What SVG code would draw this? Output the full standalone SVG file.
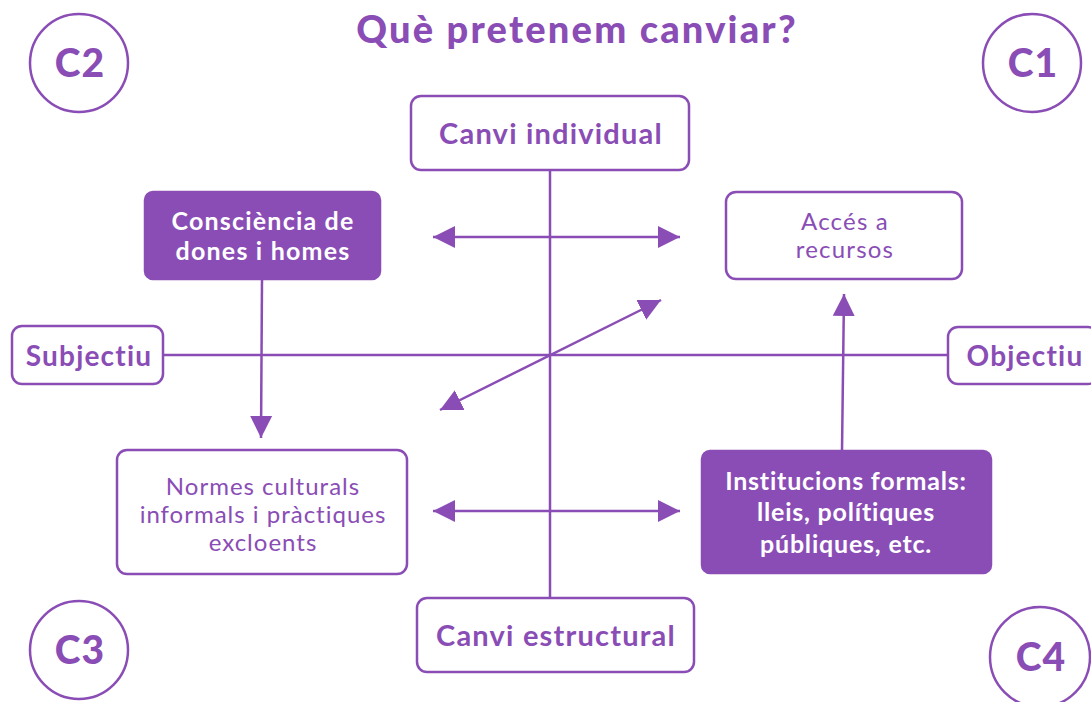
<svg xmlns="http://www.w3.org/2000/svg" width="1091" height="702" viewBox="0 0 1091 702">
<style>
.box{fill:#fff;stroke:#8a4db5;stroke-width:2.5}
.fill{fill:#8a4db5;stroke:#8a4db5;stroke-width:2.5}
.circ{fill:#fff;stroke:#8a4db5;stroke-width:2.5}
.ln{stroke:#8a4db5;stroke-width:2.5;fill:none}
.t{font-family:Lato,"Open Sans",sans-serif;text-anchor:middle;fill:#8a4db5;letter-spacing:1.2px}
.b{font-weight:bold}
.k{font-weight:900}
.w{fill:#fff}
</style>
<defs>
<marker id="ah" markerUnits="userSpaceOnUse" markerWidth="24" markerHeight="24" viewBox="0 0 24 24" refX="22" refY="12" orient="auto-start-reverse">
<path d="M0,1 L22,12 L0,23 Z" fill="#8a4db5"/>
</marker>
</defs>
<rect width="1091" height="702" fill="#fff"/>
<text class="t k" x="577" y="43" font-size="38" style="letter-spacing:2.2px">Què pretenem canviar?</text>

<g id="connectors">
<line class="ln" x1="550" y1="170" x2="550" y2="598"/>
<line class="ln" x1="163" y1="355" x2="948" y2="355"/>
<line class="ln" x1="433" y1="237" x2="680" y2="237" marker-start="url(#ah)" marker-end="url(#ah)"/>
<line class="ln" x1="433" y1="511" x2="680" y2="511" marker-start="url(#ah)" marker-end="url(#ah)"/>
<line class="ln" x1="440" y1="410" x2="661" y2="300" marker-start="url(#ah)" marker-end="url(#ah)"/>
<line class="ln" x1="262" y1="279" x2="261" y2="438" marker-end="url(#ah)"/>
<line class="ln" x1="842" y1="451" x2="844" y2="294" marker-end="url(#ah)"/>
</g>

<g id="c2"><circle class="circ" cx="79" cy="63" r="49"/><text class="t k" x="80" y="77" font-size="39">C2</text></g>
<g id="c1"><circle class="circ" cx="1032" cy="63" r="49"/><text class="t k" x="1033" y="77" font-size="39">C1</text></g>
<g id="c3"><circle class="circ" cx="79" cy="650" r="49"/><text class="t k" x="80" y="664" font-size="39">C3</text></g>
<g id="c4"><circle class="circ" cx="1040" cy="657" r="50"/><text class="t k" x="1041" y="671" font-size="39">C4</text></g>

<g id="canvi-individual"><rect class="box" x="411" y="96" width="278" height="74" rx="10"/><text class="t b" x="551" y="144" font-size="29">Canvi individual</text></g>
<g id="canvi-estructural"><rect class="box" x="417" y="598" width="277" height="74" rx="10"/><text class="t b" x="556" y="646" font-size="29">Canvi estructural</text></g>
<g id="subjectiu"><rect class="box" x="12" y="326" width="151" height="58" rx="10"/><text class="t b" x="89" y="366" font-size="28">Subjectiu</text></g>
<g id="objectiu"><rect class="box" x="948" y="327" width="150" height="57" rx="10"/><text class="t b" x="1025" y="366" font-size="28">Objectiu</text></g>

<g id="consciencia"><rect class="fill" x="145" y="192" width="235" height="87" rx="8"/>
<text class="t b w" x="263" y="230" font-size="25">Consciència de</text>
<text class="t b w" x="263" y="260" font-size="25">dones i homes</text></g>

<g id="acces"><rect class="box" x="726" y="192" width="236" height="87" rx="10"/>
<text class="t" x="845" y="230" font-size="24">Accés a</text>
<text class="t" x="845" y="258" font-size="24">recursos</text></g>

<g id="normes"><rect class="box" x="117" y="450" width="290" height="124" rx="10"/>
<text class="t" x="263" y="495" font-size="24" style="letter-spacing:1px">Normes culturals</text>
<text class="t" x="263" y="523" font-size="24" style="letter-spacing:1px">informals i pràctiques</text>
<text class="t" x="263" y="551" font-size="24" style="letter-spacing:1px">excloents</text></g>

<g id="institucions"><rect class="fill" x="702" y="451" width="289" height="122" rx="8"/>
<text class="t b w" x="846" y="490" font-size="25" style="letter-spacing:0.8px">Institucions formals:</text>
<text class="t b w" x="846" y="521" font-size="25" style="letter-spacing:0.8px">lleis, polítiques</text>
<text class="t b w" x="846" y="553" font-size="25" style="letter-spacing:0.8px">públiques, etc.</text></g>
</svg>
